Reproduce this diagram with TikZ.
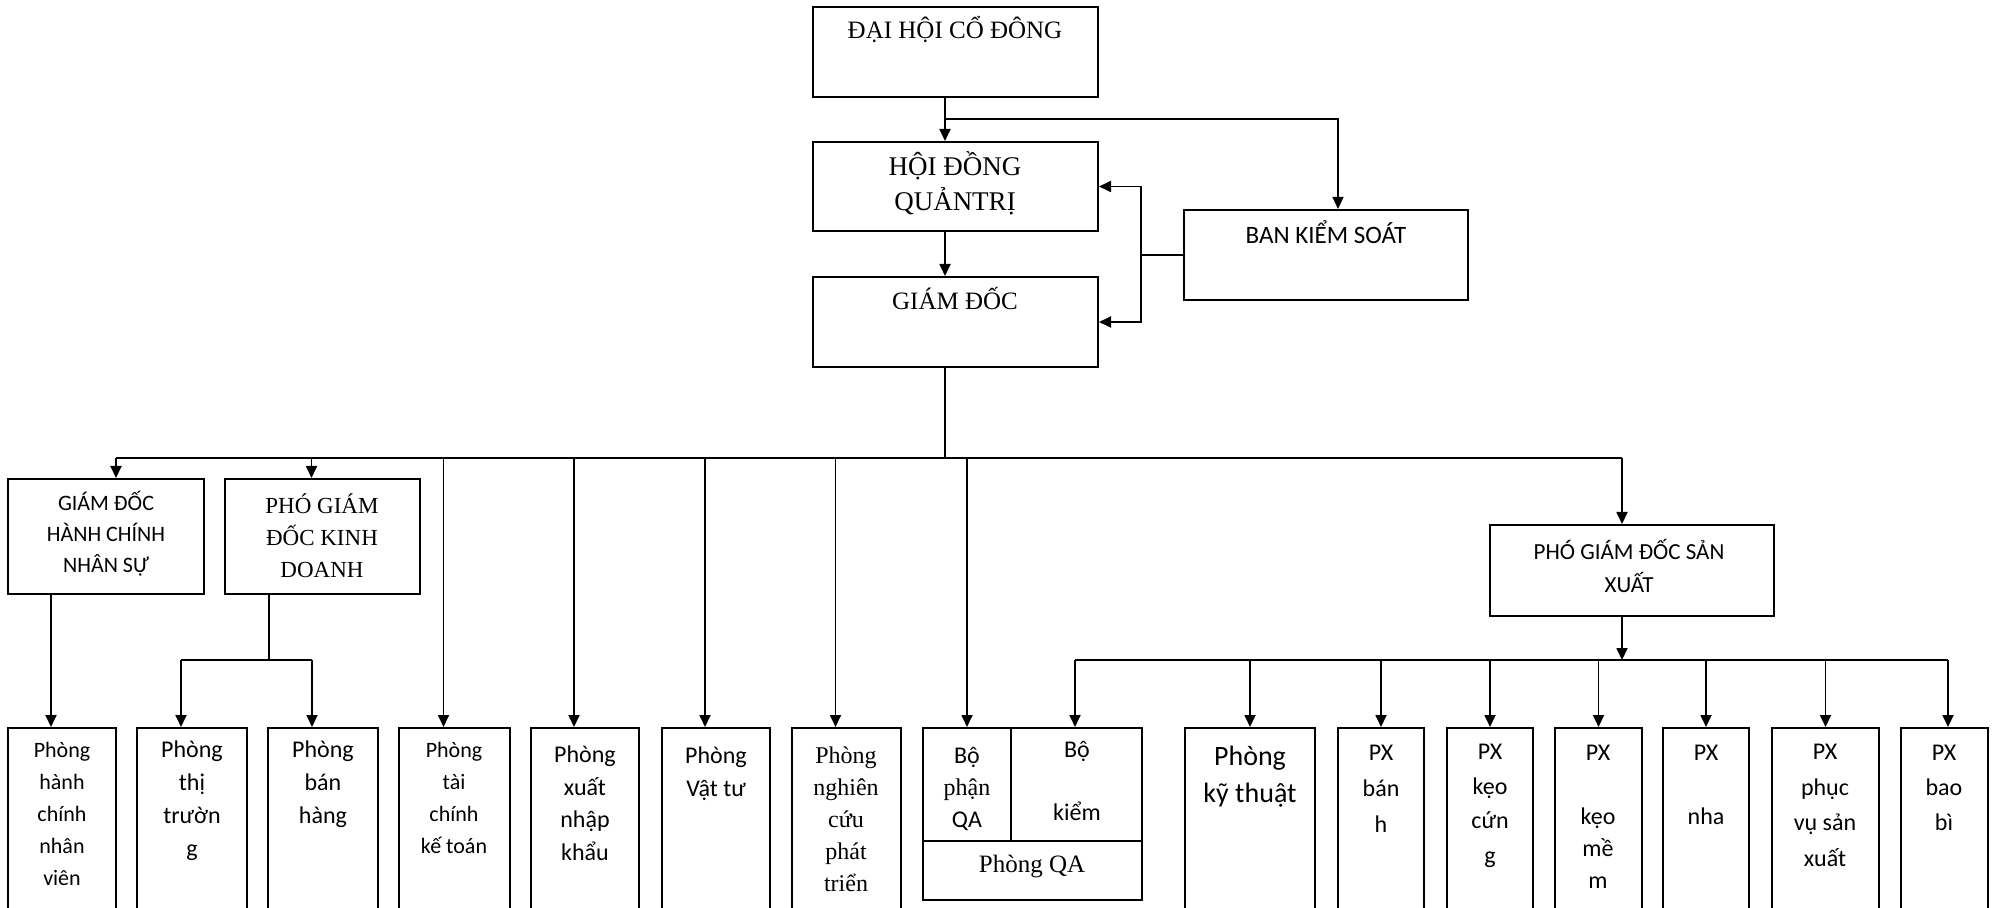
\documentclass[tikz,border=0pt]{standalone}
\usepackage{fontspec}
\setmainfont{Liberation Serif}
\newfontfamily\cali{Carlito}
\usetikzlibrary{positioning, arrows.meta, fit, calc}

\begin{document}
\begin{tikzpicture}[x=0.5pt, y=-0.5pt,
  box/.style={draw, line width=1pt, inner sep=0pt},
  tr/.style={anchor=base, align=center, inner sep=0pt, font=\fontsize{12.5}{17.5}\selectfont},
  ts/.style={anchor=base, align=center, inner sep=0pt, font=\cali\fontsize{12}{16.5}\selectfont},
  ln/.style={line width=0.9pt},
  arr/.style={-{Triangle[length=6pt, width=5.5pt]}, line width=0.9pt}
]
  \useasboundingbox (0,0) rectangle (2007,908);

  % top of the chart (text nodes sit on the baseline of their last line)
  \node[box, fit={(813,7) (1098,97)}] (dhcd) {};
  \node[tr] (dhcdT) at (955,39) {ĐẠI HỘI CỔ ĐÔNG};
  \node[box, fit={(813,142) (1098,231)}] (hdqt) {};
  \node[tr, font=\fontsize{13.5}{17.5}\selectfont] (hdqtT) at (955,211) {HỘI ĐỒNG\\QUẢNTRỊ};
  \node[box, fit={(813,277) (1098,367)}] (gd) {};
  \node[tr] (gdT) at (955,310) {GIÁM ĐỐC};
  \node[box, fit={(1184,210) (1468,300)}] (bks) {};
  \node[ts, font=\cali\fontsize{12.5}{16}\selectfont] (bksT) at (1326,244) {BAN KIỂM SOÁT};

  % deputies
  \node[box, fit={(8,479) (204,594)}] (gdhc) {};
  \node[ts, font=\cali\fontsize{11}{15.5}\selectfont] (gdhcT) at (106,573) {GIÁM ĐỐC\\HÀNH CHÍNH\\NHÂN SỰ};
  \node[box, fit={(225,479) (420,594)}] (pgdkd) {};
  \node[tr, font=\fontsize{11.5}{16}\selectfont] (pgdkdT) at (322,577) {PHÓ GIÁM\\ĐỐC KINH\\DOANH};
  \node[box, fit={(1490,525) (1774,616)}] (pgdsx) {};
  \node[ts, font=\cali\fontsize{11.5}{17}\selectfont] (pgdsxT) at (1629,593) {PHÓ GIÁM ĐỐC SẢN\\XUẤT};

  % departments
  \node[box, fit={(8,728) (116,915)}] (hcnv) {};
  \node[ts, font=\cali\fontsize{11}{16}\selectfont] (hcnvT) at (62,885) {Phòng\\hành\\chính\\nhân\\viên};
  \node[box, fit={(137,728) (247,915)}] (tt) {};
  \node[ts] (ttT) at (192,856) {Phòng\\thị\\trườn\\g};
  \node[box, fit={(268,728) (378,915)}] (bh) {};
  \node[ts] (bhT) at (323,823) {Phòng\\bán\\hàng};
  \node[box, fit={(399,728) (510,915)}] (tc) {};
  \node[ts, font=\cali\fontsize{11}{16}\selectfont] (tcT) at (454,853) {Phòng\\tài\\chính\\kế toán};
  \node[box, fit={(531,728) (639,915)}] (xnk) {};
  \node[ts, font=\cali\fontsize{12}{16.25}\selectfont] (xnkT) at (585,860) {Phòng\\xuất\\nhập\\khẩu};
  \node[box, fit={(662,728) (770,915)}] (vt) {};
  \node[ts] (vtT) at (716,796) {Phòng\\Vật tư};
  \node[box, fit={(792,728) (901,915)}] (nc) {};
  \node[tr, font=\fontsize{12}{16}\selectfont] (ncT) at (846,891) {Phòng\\nghiên\\cứu\\phát\\triển};
  \node[box, fit={(923,728) (1011,841)}] (bpqa) {};
  \node[tr, font=\fontsize{12}{16}\selectfont] (bpqaT) at (967,827) {{\cali Bộ}\\phận\\{\cali QA}};
  \node[box, fit={(1011,728) (1142,841)}] (bpkiem) {};
  \node[ts, font=\cali\fontsize{12}{15.75}\selectfont] (bpkiemT) at (1077,820) {Bộ\\[15.75pt]kiểm};
  \node[box, fit={(923,841) (1142,900)}] (pqa) {};
  \node[tr] (pqaT) at (1032,872) {Phòng QA};
  \node[box, fit={(1185,728) (1315,915)}] (kt) {};
  \node[ts, font=\cali\fontsize{14}{18.5}\selectfont] (ktT) at (1250,802) {Phòng\\kỹ thuật};
  \node[box, fit={(1338,728) (1424,915)}] (pxb) {};
  \node[ts, font=\cali\fontsize{12}{18}\selectfont] (pxbT) at (1381,832) {PX\\bán\\h};
  \node[box, fit={(1447,728) (1533,915)}] (pxkc) {};
  \node[ts, font=\cali\fontsize{12}{17.25}\selectfont] (pxkcT) at (1490,863) {PX\\kẹo\\cứn\\g};
  \node[box, fit={(1555,728) (1642,915)}] (pxkm) {};
  \node[ts, font=\cali\fontsize{12}{16}\selectfont] (pxkmT) at (1598,888) {PX\\[16pt]kẹo\\mề\\m};
  \node[box, fit={(1663,728) (1749,915)}] (pxn) {};
  \node[ts, font=\cali\fontsize{12}{16}\selectfont] (pxnT) at (1706,824) {PX\\[16pt]nha};
  \node[box, fit={(1772,728) (1879,915)}] (pxpv) {};
  \node[ts, font=\cali\fontsize{12}{17.75}\selectfont] (pxpvT) at (1825,866) {PX\\phục\\vụ sản\\xuất};
  \node[box, fit={(1901,728) (1988,915)}] (pxbb) {};
  \node[ts, font=\cali\fontsize{12}{17.5}\selectfont] (pxbbT) at (1944,830) {PX\\bao\\bì};

  % connectors at the top
  \coordinate (trunk) at (945,119);
  \draw[arr] (dhcd.south -| trunk) -- (hdqt.north -| trunk);
  \draw[arr, line width=0.6pt] (trunk) -| ($(bks.north)+(12,0)$);
  \draw[arr] (hdqt.south -| trunk) -- (gd.north -| trunk);
  \coordinate (kx) at (1141,255);
  \draw[ln] (bks.west) -- (kx);
  \draw[arr] (kx) |- (hdqt.east);
  \draw[arr] (kx) |- (gd.east);

  % main bus under the director
  \coordinate (busL) at (116,458);
  \coordinate (busR) at (1622,458);
  \draw[ln] (gd.south -| trunk) -- (trunk |- busL);
  \draw[ln] (busL) -- (busR);
  \draw[arr] (busL) -- (busL |- gdhc.north);
  \foreach \n in {pgdkd, tc, xnk, vt, nc}
    \draw[arr] ($(\n.north |- busL)+(-11,0)$) -- ($(\n.north)+(-11,0)$);
  \draw[arr] (bpqa.north |- busL) -- (bpqa.north);
  \draw[arr] (busR) -- (busR |- pgdsx.north);

  % under the deputies
  \draw[arr] ($(hcnv.north |- gdhc.south)+(-11,0)$) -- ($(hcnv.north)+(-11,0)$);
  \coordinate (kd) at (269,660);
  \coordinate (kdL) at (181,660);
  \coordinate (kdR) at (312,660);
  \draw[ln] (pgdkd.south -| kd) -- (kd);
  \draw[ln] (kdL) -- (kdR);
  \draw[arr] (kdL) -- (kdL |- tt.north);
  \draw[arr] (kdR) -- (kdR |- bh.north);

  \coordinate (sx) at (1622,660);
  \coordinate (sxL) at (1075,660);
  \coordinate (sxR) at (1948,660);
  \draw[arr] (pgdsx.south -| sx) -- (sx);
  \draw[ln] (sxL) -- (sxR);
  \draw[arr] (sxL) -- (sxL |- bpkiem.north);
  \foreach \n in {kt, pxb, pxkc, pxkm, pxn, pxpv}
    \draw[arr] (\n.north |- sxL) -- (\n.north);
  \draw[arr] (sxR) -- (sxR |- pxbb.north);
\end{tikzpicture}
\end{document}
